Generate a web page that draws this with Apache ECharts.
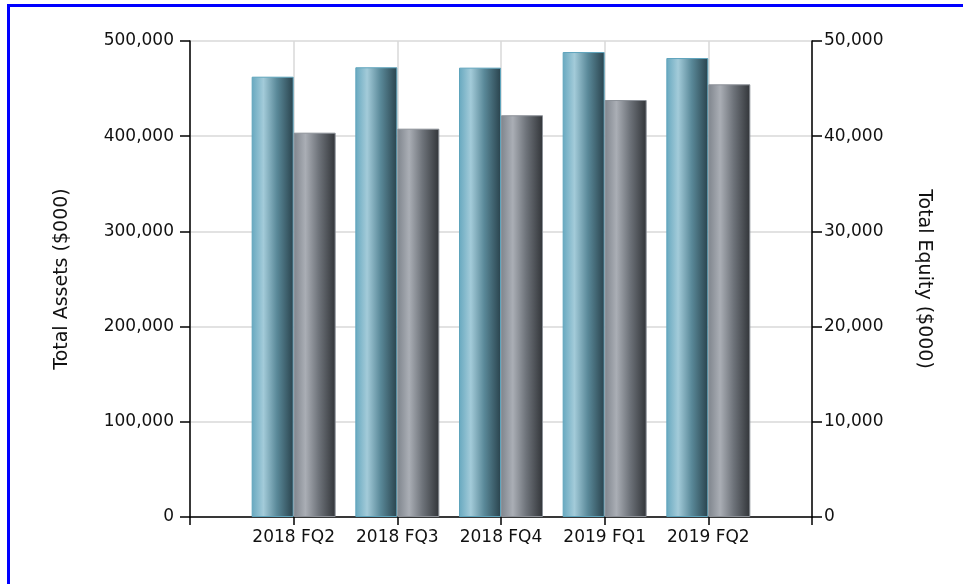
<!DOCTYPE html>
<html>
<head>
<meta charset="utf-8">
<script src="https://cdn.jsdelivr.net/npm/echarts@6/dist/echarts.min.js"></script>
<style>
  html, body { margin: 0; padding: 0; background: #fff; }
  #chart { width: 963px; height: 584px; }
</style>
</head>
<body>
<div id="chart"></div>
<script>
  // quarters on the x axis (empty slots pad both ends like the original)
  const quarters = ["2018 FQ2", "2018 FQ3", "2018 FQ4", "2019 FQ1", "2019 FQ2"];
  const totalAssets = [462500, 472400, 472000, 488400, 482100];
  const totalEquity = [40370, 40790, 42200, 43800, 45450];
  const assetTicks = [0, 100000, 500000];
  const equityTicks = [0, 10000, 50000];

  const pad = (arr) => [null, ...arr, null];
  const fmt = (v) => Number(v).toLocaleString("en-US");

  const labelFont = { fontFamily: "DejaVu Sans", fontSize: 17, color: "#111" };

  const blueFill = new echarts.graphic.LinearGradient(0, 0, 1, 0, [
    { offset: 0, color: "#67a8bf" },
    { offset: 0.28, color: "#a3cbd9" },
    { offset: 0.6, color: "#5a8999" },
    { offset: 1, color: "#29424c" },
  ]);
  const grayFill = new echarts.graphic.LinearGradient(0, 0, 1, 0, [
    { offset: 0, color: "#7f858d" },
    { offset: 0.28, color: "#aaaeb5" },
    { offset: 0.6, color: "#6e737a" },
    { offset: 1, color: "#313438" },
  ]);

  const chart = echarts.init(document.getElementById("chart"), null, { renderer: "canvas" });

  const options = {
    animation: false,
    backgroundColor: "#fff",
    grid: { left: 190, right: 151, top: 41, bottom: 67 },
    graphic: [
      {
        type: "rect",
        shape: { x: 8.5, y: 5.5, width: 1000, height: 1000 },
        style: { fill: null, stroke: "#0000ff", lineWidth: 3 },
        silent: true,
      },
    ],
    xAxis: {
      type: "category",
      data: ["", ...quarters, ""],
      boundaryGap: false,
      axisLine: { lineStyle: { color: "#000", width: 1.5 } },
      axisTick: { length: 8, lineStyle: { color: "#000", width: 1.5 } },
      axisLabel: { ...labelFont, interval: 0, margin: 12 },
      splitLine: { show: true, lineStyle: { color: "#d9d9d9", width: 1.5 } },
    },
    yAxis: [
      {
        type: "value",
        min: assetTicks[0],
        max: assetTicks[2],
        interval: assetTicks[1],
        name: "Total Assets ($000)",
        nameLocation: "middle",
        nameGap: 118,
        nameTextStyle: { fontFamily: "DejaVu Sans", fontSize: 19, color: "#111" },
        axisLine: { show: true, lineStyle: { color: "#000", width: 1.5 } },
        axisTick: { show: true, length: 10, lineStyle: { color: "#000", width: 1.5 } },
        axisLabel: { ...labelFont, margin: 16, formatter: fmt },
        splitLine: { show: true, lineStyle: { color: "#d9d9d9", width: 1.5 } },
      },
      {
        type: "value",
        position: "right",
        min: equityTicks[0],
        max: equityTicks[2],
        interval: equityTicks[1],
        name: "Total Equity ($000)",
        nameLocation: "middle",
        nameRotate: -90,
        nameGap: 102,
        nameTextStyle: { fontFamily: "DejaVu Sans", fontSize: 19, color: "#111" },
        axisLine: { show: true, lineStyle: { color: "#000", width: 1.5 } },
        axisTick: { show: true, length: 10, lineStyle: { color: "#000", width: 1.5 } },
        axisLabel: { ...labelFont, margin: 12, formatter: fmt },
        splitLine: { show: false },
      },
    ],
    series: [
      {
        name: "Total Assets",
        type: "bar",
        yAxisIndex: 0,
        data: pad(totalAssets),
        barWidth: 42,
        barGap: "0%",
        itemStyle: { color: blueFill, borderColor: "#5ea4bc", borderWidth: 1 },
      },
      {
        name: "Total Equity",
        type: "bar",
        yAxisIndex: 1,
        data: pad(totalEquity),
        barWidth: 42,
        barGap: "0%",
        itemStyle: { color: grayFill, borderColor: "#8c9198", borderWidth: 1 },
      },
    ],
  };

  chart.setOption(options);
</script>
</body>
</html>
